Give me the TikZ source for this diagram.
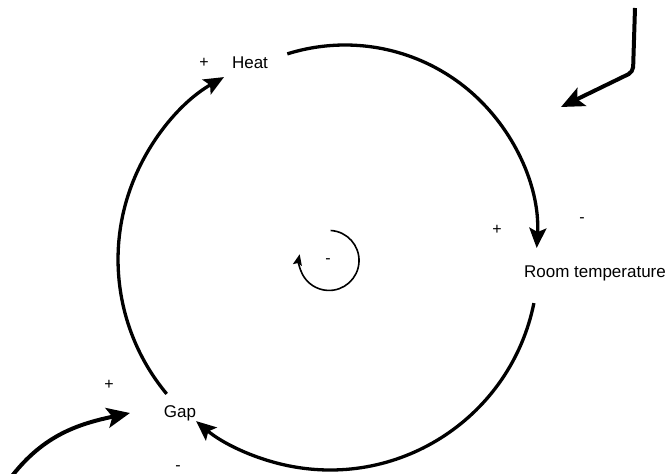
\documentclass[tikz,border=0pt]{standalone}
\usepackage{fontspec}
\setmainfont{Liberation Sans}
\usetikzlibrary{arrows.meta}
\begin{document}
\begin{tikzpicture}[x=1pt,y=1pt,
  lbl/.style={inner sep=0pt, font=\fontsize{17}{20}\selectfont},
  sgn/.style={inner sep=0pt, font=\fontsize{16}{19}\selectfont},
  bigarrow/.style={line width=3.3pt, -{Stealth[length=20pt,width=17pt,inset=4pt]}},
  extarrow/.style={line width=4pt, -{Stealth[length=23pt,width=20pt,inset=5pt]}},
  smallarrow/.style={line width=1.6pt, -{Stealth[length=11pt,width=9pt,inset=2pt]}}]
\useasboundingbox (0,0) rectangle (670,474);
% variables
\node[lbl, anchor=base] (heat) at (250,405) {Heat};
\node[lbl, anchor=base] (room) at (595,196.7) {Room temperature};
\node[lbl, anchor=base] (gap) at (180,56) {Gap};
% polarity signs
\node[sgn] (heatplus) at (204,411.3) {+};
\node[sgn] (roomplus) at (497,244) {+};
\node[sgn] (roomminus) at (582,254) {-};
\node[sgn] (gapplus) at (109,89) {+};
\node[sgn] (gapminus) at (178,6) {-};
\node[sgn] (loopminus) at (328,213) {-};
% arc start points
\coordinate (h1) at (287.3,420.1);
\coordinate (r1) at (533.9,170.9);
\coordinate (g1) at (166.7,80.1);
\coordinate (l1) at (330.6,243.5);
% main loop arcs
\draw[bigarrow] (h1) arc[start angle=107.5, end angle=-3.3, radius=192];
\draw[bigarrow] (r1) arc[start angle=-11.4, end angle=-130.1, radius=208];
\draw[bigarrow] (g1) arc[start angle=219.8, end angle=119.7, radius=210];
% loop symbol
\draw[smallarrow] (l1) arc[start angle=87, end angle=-192, radius=30];
% external arrows
\coordinate (ts) at (635,466);
\coordinate (tc) at (633,402);
\coordinate (te) at (561,367);
\draw[extarrow, rounded corners=5pt] (ts) -- (tc) -- (te);
\coordinate (bs) at (12,-2);
\coordinate (be) at (130,61);
\draw[extarrow] (bs) to[out=52, in=192] (be);
\end{tikzpicture}
\end{document}
